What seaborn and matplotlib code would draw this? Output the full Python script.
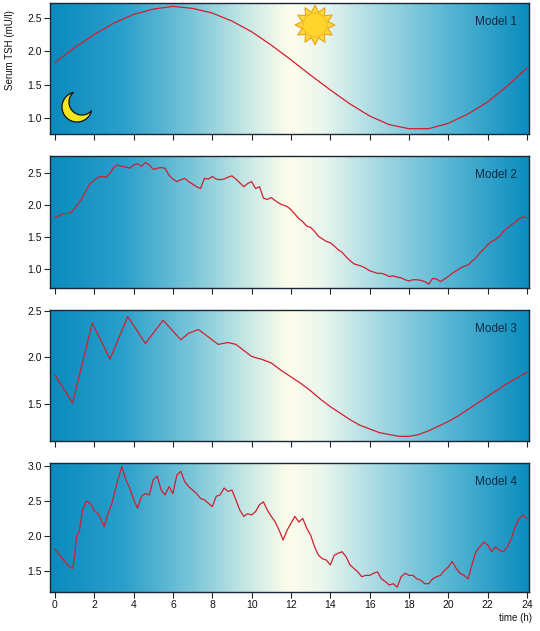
import numpy as np
import matplotlib
matplotlib.use("Agg")
import matplotlib.pyplot as plt
from matplotlib.colors import LinearSegmentedColormap
from matplotlib.patches import Circle, Polygon
import seaborn as sns

# time grids (hours)
t_model1 = [0, 1, 2, 3, 4, 5, 6, 7, 8, 9, 10, 11, 12, 13, 14, 15, 16, 17, 18,
            19, 20, 21, 22, 23, 24]
tsh_model1 = [1.83, 2.05, 2.25, 2.42, 2.55, 2.63, 2.67, 2.64, 2.57, 2.45, 2.29,
              2.09, 1.87, 1.64, 1.42, 1.21, 1.03, 0.90, 0.84, 0.84, 0.92, 1.06,
              1.24, 1.48, 1.75]

t_model2 = [0, 0.4, 0.8, 1.0, 1.2, 1.4, 1.6, 1.8, 2.0, 2.2, 2.4, 2.6, 2.8, 3.0,
            3.2, 3.4, 3.6, 3.8, 4.0, 4.2, 4.4, 4.6, 4.8, 5.0, 5.2, 5.4, 5.6, 5.8,
            6.0, 6.2, 6.4, 6.6, 6.8, 7.0, 7.2, 7.4, 7.6, 7.8, 8.0, 8.2, 8.4, 8.6,
            8.8, 9.0, 9.2, 9.4, 9.6, 9.8, 10.0, 10.2, 10.4, 10.6, 10.8, 11.0,
            11.2, 11.4, 11.6, 11.8, 12.0, 12.2, 12.4, 12.6, 12.8, 13.0, 13.2,
            13.4, 13.6, 13.8, 14.0, 14.2, 14.4, 14.6, 14.8, 15.0, 15.2, 15.4,
            15.6, 15.8, 16.0, 16.2, 16.4, 16.6, 16.8, 17.0, 17.2, 17.4, 17.6,
            17.8, 18.0, 18.2, 18.4, 18.6, 18.8, 19.0, 19.2, 19.4, 19.6, 19.8,
            20.0, 20.2, 20.4, 20.6, 20.8, 21.0, 21.2, 21.4, 21.6, 21.8, 22.0,
            22.2, 22.4, 22.6, 22.8, 23.0, 23.2, 23.4, 23.6, 23.8, 24.0]
tsh_model2 = [1.80, 1.86, 1.88, 1.95, 2.03, 2.12, 2.24, 2.34, 2.39, 2.44, 2.45,
              2.44, 2.50, 2.60, 2.63, 2.61, 2.60, 2.58, 2.63, 2.65, 2.61, 2.67,
              2.63, 2.56, 2.58, 2.59, 2.58, 2.47, 2.41, 2.37, 2.40, 2.42, 2.37,
              2.33, 2.29, 2.26, 2.42, 2.41, 2.45, 2.41, 2.40, 2.41, 2.44, 2.46,
              2.41, 2.35, 2.29, 2.34, 2.37, 2.26, 2.29, 2.11, 2.09, 2.12, 2.07,
              2.03, 2.00, 1.98, 1.93, 1.86, 1.79, 1.74, 1.67, 1.65, 1.59, 1.51,
              1.47, 1.43, 1.41, 1.36, 1.30, 1.26, 1.19, 1.13, 1.08, 1.06, 1.04,
              1.01, 0.97, 0.95, 0.93, 0.93, 0.91, 0.88, 0.89, 0.87, 0.86, 0.83,
              0.81, 0.83, 0.83, 0.82, 0.80, 0.76, 0.85, 0.84, 0.80, 0.84, 0.88,
              0.93, 0.97, 1.01, 1.04, 1.06, 1.12, 1.17, 1.25, 1.31, 1.38, 1.43,
              1.46, 1.51, 1.59, 1.64, 1.69, 1.73, 1.79, 1.82, 1.80]

t_model3 = [0, 0.9, 1.9, 2.8, 3.7, 4.6, 5.5, 6.4, 6.8, 7.3, 8.3, 8.8, 9.2, 10.0,
            10.5, 11.0, 11.5, 12.0, 12.5, 13.0, 13.5, 14.0, 14.5, 15.0, 15.5,
            16.0, 16.5, 17.0, 17.5, 18.0, 18.5, 19.0, 19.5, 20.0, 20.5, 21.0,
            21.5, 22.0, 22.5, 23.0, 23.5, 24.0]
tsh_model3 = [1.81, 1.51, 2.37, 1.98, 2.44, 2.15, 2.40, 2.19, 2.26, 2.30, 2.14,
              2.16, 2.14, 2.01, 1.98, 1.94, 1.86, 1.79, 1.72, 1.64, 1.55, 1.47,
              1.40, 1.33, 1.27, 1.23, 1.19, 1.17, 1.15, 1.15, 1.17, 1.21, 1.26,
              1.31, 1.37, 1.44, 1.51, 1.58, 1.65, 1.72, 1.78, 1.84]

t_model4 = [0, 0.25, 0.5, 0.75, 0.9, 1.0, 1.1, 1.25, 1.4, 1.6, 1.8, 2.0, 2.2,
            2.35, 2.5, 2.7, 2.9, 3.0, 3.2, 3.4, 3.6, 3.8, 4.0, 4.2, 4.4, 4.6,
            4.8, 5.0, 5.2, 5.4, 5.6, 5.8, 6.0, 6.2, 6.4, 6.6, 6.8, 7.0, 7.2,
            7.4, 7.6, 7.8, 8.0, 8.2, 8.4, 8.6, 8.8, 9.0, 9.2, 9.4, 9.6, 9.8,
            10.0, 10.2, 10.4, 10.6, 10.8, 11.0, 11.2, 11.4, 11.6, 11.8, 12.0,
            12.2, 12.4, 12.6, 12.8, 13.0, 13.2, 13.4, 13.6, 13.8, 14.0, 14.2,
            14.4, 14.6, 14.8, 15.0, 15.2, 15.4, 15.6, 15.8, 16.0, 16.2, 16.4,
            16.6, 16.8, 17.0, 17.2, 17.4, 17.6, 17.8, 18.0, 18.2, 18.4, 18.6,
            18.8, 19.0, 19.2, 19.4, 19.6, 19.8, 20.0, 20.2, 20.4, 20.6, 20.8,
            21.0, 21.2, 21.4, 21.6, 21.8, 22.0, 22.2, 22.4, 22.6, 22.8, 23.0,
            23.2, 23.4, 23.6, 23.8, 24.0]
tsh_model4 = [1.81, 1.72, 1.63, 1.55, 1.53, 1.70, 1.99, 2.08, 2.37, 2.50, 2.47,
              2.36, 2.32, 2.23, 2.13, 2.32, 2.47, 2.59, 2.81, 3.00, 2.81, 2.69,
              2.52, 2.40, 2.57, 2.61, 2.59, 2.81, 2.86, 2.66, 2.59, 2.71, 2.61,
              2.88, 2.93, 2.78, 2.71, 2.66, 2.61, 2.54, 2.52, 2.47, 2.42, 2.57,
              2.59, 2.69, 2.64, 2.66, 2.52, 2.37, 2.28, 2.32, 2.30, 2.35, 2.45,
              2.49, 2.37, 2.28, 2.20, 2.08, 1.94, 2.08, 2.18, 2.28, 2.20, 2.25,
              2.11, 2.01, 1.84, 1.72, 1.67, 1.65, 1.58, 1.72, 1.75, 1.77, 1.70,
              1.58, 1.53, 1.48, 1.41, 1.43, 1.43, 1.46, 1.48, 1.38, 1.34, 1.29,
              1.31, 1.26, 1.41, 1.46, 1.43, 1.43, 1.38, 1.36, 1.31, 1.31, 1.38,
              1.41, 1.43, 1.50, 1.55, 1.63, 1.53, 1.46, 1.43, 1.38, 1.58, 1.77,
              1.84, 1.91, 1.87, 1.77, 1.84, 1.79, 1.77, 1.84, 1.96, 2.13, 2.25,
              2.30, 2.25]

models = ["Model 1", "Model 2", "Model 3", "Model 4"]
series = [(t_model1, tsh_model1), (t_model2, tsh_model2),
          (t_model3, tsh_model3), (t_model4, tsh_model4)]
ylims = [(0.76, 2.72), (0.70, 2.77), (1.10, 2.51), (1.19, 3.05)]
yticks = [[1.0, 1.5, 2.0, 2.5], [1.0, 1.5, 2.0, 2.5], [1.5, 2.0, 2.5],
          [1.5, 2.0, 2.5, 3.0]]
xticks = list(range(0, 25, 2))

sns.set_theme(style="ticks")
plt.rcParams["font.family"] = ["Liberation Sans", "DejaVu Sans"]

day_cmap = LinearSegmentedColormap.from_list("day", [
    (0.00, "#0a8bbd"), (0.15, "#2a9fcb"), (0.30, "#7cc7d9"),
    (0.42, "#cdebe6"), (0.50, "#fffdeb"), (0.57, "#eaf6ee"),
    (0.68, "#a9dbe3"), (0.84, "#55b5d3"), (1.00, "#0b8dbf")])

fig = plt.figure(figsize=(5.4, 6.31), dpi=100)
rects = [[0.0926, 0.7876, 0.887, 0.2076],
         [0.0926, 0.5436, 0.887, 0.2090],
         [0.0926, 0.3011, 0.887, 0.2076],
         [0.0926, 0.0618, 0.887, 0.2044]]

line_color = "#d11f2e"
edge = "#1b2633"
axes = []
for i, (rect, name, (tt, yy)) in enumerate(zip(rects, models, series)):
    ax = fig.add_axes(rect)
    axes.append(ax)
    x0, x1 = -0.25, 24.1
    y0, y1 = ylims[i]
    grad = np.linspace(0, 1, 400).reshape(1, -1)
    ax.imshow(grad, cmap=day_cmap, aspect="auto", extent=(x0, x1, y0, y1),
              zorder=0, interpolation="bicubic")
    sns.lineplot(x=tt, y=yy, ax=ax, color=line_color, lw=0.9,
                 estimator=None, zorder=3)
    ax.set_xlim(x0, x1)
    ax.set_ylim(y0, y1)
    ax.set_xticks(xticks)
    ax.set_yticks(yticks[i])
    ax.set_yticklabels([f"{v:.1f}" for v in yticks[i]])
    ax.tick_params(direction="out", length=4, width=0.8, colors=edge,
                   labelsize=7.5, labelcolor="#111111", pad=2)
    if i < 3:
        ax.tick_params(axis="x", labelbottom=False)
    for s in ax.spines.values():
        s.set_color(edge)
        s.set_linewidth(1.0)
    ax.set_xlabel("")
    ax.set_ylabel("")
    ax.text(0.975, 0.855, name, transform=ax.transAxes, ha="right",
            va="center", fontsize=8.5, color="#0d2a45")

fig.text(0.018, 0.92, "Serum TSH (mU/l)", rotation=90, ha="center",
         va="center", fontsize=7, color="#111111")
fig.text(0.985, 0.012, "time (h)", ha="right", va="bottom", fontsize=7,
         color="#111111")

# sun icon
sun_ax = fig.add_axes([(315 - 22) / 540, (631 - 25 - 22) / 631, 44 / 540, 44 / 631])
sun_ax.set_xlim(-1.1, 1.1)
sun_ax.set_ylim(-1.1, 1.1)
sun_ax.axis("off")
ang = np.linspace(0, 2 * np.pi, 25)[:-1]
rad = np.where(np.arange(24) % 2 == 0, 1.0, 0.66)
star = np.column_stack([rad * np.cos(ang + np.pi / 2), rad * np.sin(ang + np.pi / 2)])
sun_ax.add_patch(Polygon(star, closed=True, fc="#ffd83a", ec="#e9a21a", lw=0.8))
sun_ax.add_patch(Circle((0, 0), 0.6, fc="#ffd52c", ec="#f0b020", lw=0.6))

# moon icon
moon_ax = fig.add_axes([(77 - 18) / 540, (631 - 107 - 18) / 631, 36 / 540, 36 / 631])
moon_ax.set_xlim(-1.2, 1.2)
moon_ax.set_ylim(-1.2, 1.2)
moon_ax.axis("off")
R, r, d, phi = 1.0, 0.86, 0.46, np.deg2rad(45)
alpha = np.arccos((R ** 2 + d ** 2 - r ** 2) / (2 * R * d))
beta = np.arccos((r ** 2 + d ** 2 - R ** 2) / (2 * r * d))
a_out = np.linspace(phi + alpha, phi + 2 * np.pi - alpha, 80)
a_in = np.linspace(phi + np.pi + beta, phi + np.pi - beta, 60)
cx, cy = d * np.cos(phi), d * np.sin(phi)
crescent = np.vstack([np.column_stack([R * np.cos(a_out), R * np.sin(a_out)]),
                      np.column_stack([cx + r * np.cos(a_in), cy + r * np.sin(a_in)])])
moon_ax.add_patch(Polygon(crescent, closed=True, fc="#f3e51e", ec="#111111", lw=0.9))

fig.savefig("out.png", dpi=100)
